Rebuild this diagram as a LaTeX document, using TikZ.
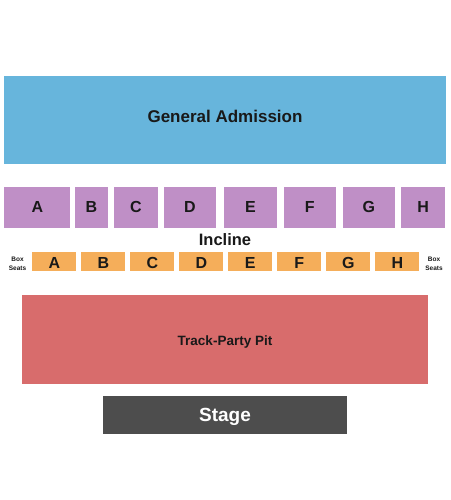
\documentclass[tikz,border=0pt]{standalone}
\usepackage{fontspec}
\setmainfont{Liberation Sans}
\begin{document}
\begin{tikzpicture}[x=1pt,y=-1pt,
  lbl/.style={inner sep=0pt,anchor=base,font=\bfseries,text=black!90}]
\definecolor{gacol}{HTML}{67B5DC}
\definecolor{inccol}{HTML}{BF8FC6}
\definecolor{boxcol}{HTML}{F5AE5A}
\definecolor{pitcol}{HTML}{D86C6C}
\definecolor{stagecol}{HTML}{4D4D4D}
\useasboundingbox (0,0) rectangle (450,500);
% General Admission
\fill[gacol] (4,76) rectangle (446,164);
\node[lbl,font=\bfseries\fontsize{17}{20}\selectfont] (ga) at (225,122.5) {General Admission};
% Incline row
\foreach \n/\a/\b in {A/4.3/70.3, B/75.3/107.7, C/114/158, D/163.7/216, E/224/277, F/284/335.7, G/343/394.7, H/401/445.3}{
  \fill[inccol] (\a,186.7) rectangle (\b,227.7);
  \node[lbl,font=\bfseries\fontsize{16}{18}\selectfont] (inc\n) at ({(\a+\b)/2},212.5) {\n};
}
\node[lbl,font=\bfseries\fontsize{16.5}{19}\selectfont] (incline) at (225,245.3) {Incline};
% Box seats row
\foreach \n [count=\i from 0] in {A,B,C,D,E,F,G,H}{
  \pgfmathsetmacro{\xa}{32.3+49*\i}
  \fill[boxcol] (\xa,252.3) rectangle (\xa+44,271);
  \node[lbl,font=\bfseries\fontsize{16}{18}\selectfont] (box\n) at (\xa+22,268) {\n};
}
\node[lbl,font=\bfseries\fontsize{6.5}{9.5}\selectfont] (bsl1) at (17.5,261) {Box};
\node[lbl,font=\bfseries\fontsize{6.5}{9.5}\selectfont] (bsl2) at (17.5,270.7) {Seats};
\node[lbl,font=\bfseries\fontsize{6.5}{9.5}\selectfont] (bsr1) at (434,261) {Box};
\node[lbl,font=\bfseries\fontsize{6.5}{9.5}\selectfont] (bsr2) at (434,270.7) {Seats};
% Track-Party Pit
\fill[pitcol] (22.3,295.3) rectangle (428.3,384);
\node[lbl,font=\bfseries\fontsize{13.5}{16}\selectfont] (pit) at (225,345) {Track-Party Pit};
% Stage
\fill[stagecol] (103,395.7) rectangle (347,433.7);
\node[lbl,text=white,font=\bfseries\fontsize{19}{22}\selectfont] (stage) at (225,421.5) {Stage};
\end{tikzpicture}
\end{document}
